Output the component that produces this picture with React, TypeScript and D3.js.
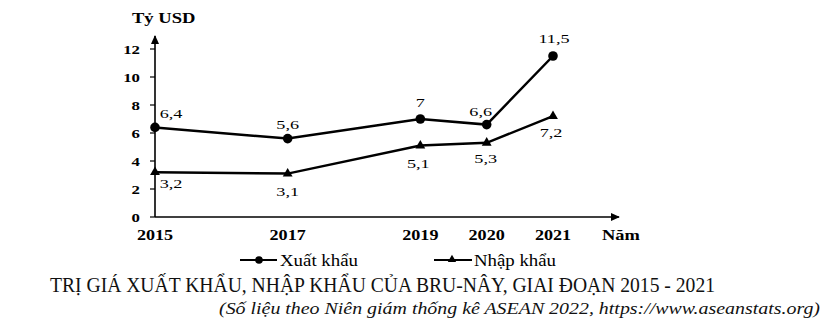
import React from "react";
import * as d3 from "d3";

const years = [2015, 2017, 2019, 2020, 2021];
const exportsV = [6.4, 5.6, 7, 6.6, 11.5];
const importsV = [3.2, 3.1, 5.1, 5.3, 7.2];
const exportLabels = ["6,4", "5,6", "7", "6,6", "11,5"];
const importLabels = ["3,2", "3,1", "5,1", "5,3", "7,2"];
const yTicks = [0, 2, 4, 6, 8, 10, 12];

const W = 832, H = 332;
const serif = "'Liberation Serif', 'DejaVu Serif', serif";

function SText(props: { x: number; y: number; sx: number; size: number; bold?: boolean; anchor?: string; children: React.ReactNode }) {
  const { x, y, sx, size, bold, anchor, children } = props;
  return (
    <text transform={`translate(${x},${y}) scale(${sx},1)`} textAnchor={anchor || "start"} fontFamily={serif} fontSize={size} fontWeight={bold ? "bold" : "normal"} fill="#000">
      {children}
    </text>
  );
}

export default function App() {
  const x = d3.scaleLinear().domain([2015, 2021]).range([155, 553]);
  const y = d3.scaleLinear().domain([0, 12]).range([217, 49]);
  const line = d3.line<[number, number]>().x(d => x(d[0])).y(d => y(d[1]));
  const ex = years.map((yr, i) => [yr, exportsV[i]] as [number, number]);
  const im = years.map((yr, i) => [yr, importsV[i]] as [number, number]);
  const tri = d3.symbol().type(d3.symbolTriangle).size(42)()!;
  const triSmall = d3.symbol().type(d3.symbolTriangle).size(30)()!;

  // label offsets (dx, baseline dy) relative to point
  const exOff = [[16, -9], [0, -10], [0, -12], [-6, -9], [1, -13]];
  const imOff = [[16, 16], [0, 22], [-2, 22], [-1, 20], [-2, 21]];

  return (
    <svg width={W} height={H} style={{ position: "absolute", left: 0, top: 0, background: "#fff" }}>
      <rect width={W} height={H} fill="#fff" />
      <defs>
        <marker id="arr" viewBox="0 0 10 10" refX="9" refY="5" markerWidth="9" markerHeight="9" orient="auto" markerUnits="userSpaceOnUse">
          <path d="M0,0.5 L10,5 L0,9.5 Z" fill="#000" />
        </marker>
      </defs>
      <SText x={132} y={23} sx={1.28} size={14.5} bold>Tỷ USD</SText>
      {/* axes */}
      <line x1={x(2015)} y1={y(0)} x2={x(2015)} y2={36} stroke="#000" strokeWidth={1.6} markerEnd="url(#arr)" />
      <line x1={x(2015)} y1={y(0)} x2={619} y2={y(0)} stroke="#000" strokeWidth={1.6} markerEnd="url(#arr)" />
      {yTicks.map(t => (
        <g key={t}>
          <line x1={x(2015) - 5} x2={x(2015)} y1={y(t)} y2={y(t)} stroke="#000" strokeWidth={1.2} />
          <SText x={140} y={y(t) + 4.5} sx={1.4} size={12} bold anchor="end">{t}</SText>
        </g>
      ))}
      {years.map(yr => (
        <SText key={yr} x={x(yr)} y={240} sx={1.25} size={14.5} bold anchor="middle">{yr}</SText>
      ))}
      <SText x={602} y={240} sx={1.27} size={14.5} bold>Năm</SText>
      {/* lines */}
      <path d={line(ex)!} fill="none" stroke="#000" strokeWidth={2.5} />
      <path d={line(im)!} fill="none" stroke="#000" strokeWidth={2.5} />
      {ex.map((d, i) => (
        <g key={"e" + i}>
          <circle cx={x(d[0])} cy={y(d[1])} r={4.8} fill="#000" />
          <SText x={x(d[0]) + exOff[i][0]} y={y(d[1]) + exOff[i][1]} sx={1.4} size={13} anchor="middle">{exportLabels[i]}</SText>
        </g>
      ))}
      {im.map((d, i) => (
        <g key={"i" + i}>
          <path d={tri} transform={`translate(${x(d[0])},${y(d[1])})`} fill="#000" />
          <SText x={x(d[0]) + imOff[i][0]} y={y(d[1]) + imOff[i][1]} sx={1.4} size={13} anchor="middle">{importLabels[i]}</SText>
        </g>
      ))}
      {/* legend */}
      <line x1={240} x2={277} y1={260} y2={260} stroke="#000" strokeWidth={2} />
      <circle cx={259} cy={260} r={3.8} fill="#000" />
      <text x={280} y={266} fontFamily={serif} fontSize={16} textLength={78} lengthAdjust="spacingAndGlyphs">Xuất khẩu</text>
      <line x1={434} x2={472} y1={260} y2={260} stroke="#000" strokeWidth={2} />
      <path d={triSmall} transform="translate(452,259.5)" fill="#000" />
      <text x={474} y={266} fontFamily={serif} fontSize={16} textLength={82} lengthAdjust="spacingAndGlyphs">Nhập khẩu</text>
      {/* title */}
      <text x={50} y={292} fontFamily={serif} fontSize={21.5} textLength={665} lengthAdjust="spacingAndGlyphs" fill="#111">TRỊ GIÁ XUẤT KHẨU, NHẬP KHẨU CỦA BRU-NÂY, GIAI ĐOẠN 2015 - 2021</text>
      <text x={219} y={314} fontFamily={serif} fontStyle="italic" fontSize={17} textLength={601} lengthAdjust="spacingAndGlyphs" fill="#111">(Số liệu theo Niên giám thống kê ASEAN 2022, https://www.aseanstats.org)</text>
    </svg>
  );
}
